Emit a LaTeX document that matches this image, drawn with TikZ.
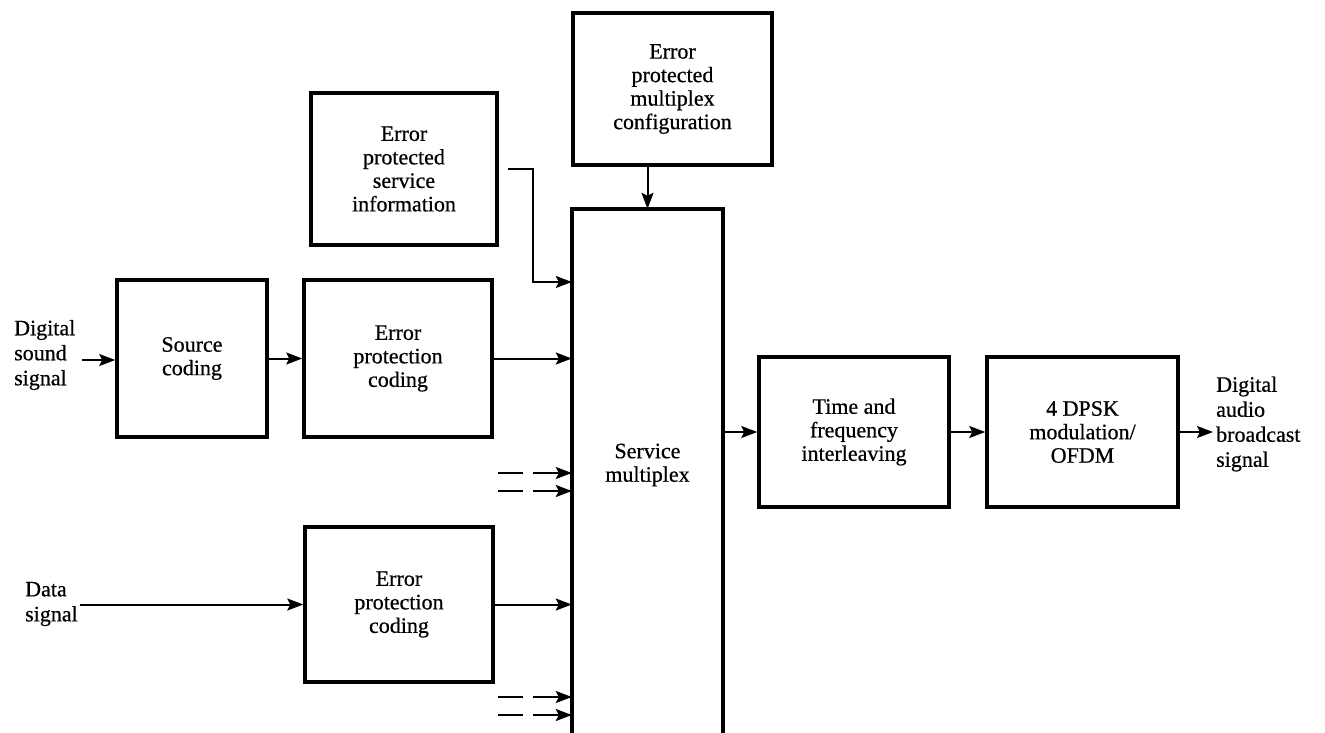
\documentclass[tikz,border=0pt]{standalone}
\usepackage{fontspec}
\setmainfont{Liberation Serif}[FakeBold=0.6]
\newfontfamily\txtfont{Liberation Serif}[FakeBold=0.6]
\usetikzlibrary{arrows.meta}
\begin{document}
\begin{tikzpicture}[x=1pt,y=-1pt,
  blk/.style={draw, line width=3.5pt, align=center, inner sep=0pt, font=\txtfont\fontsize{22}{23.5}\selectfont},
  lbl/.style={align=left, inner sep=0pt, anchor=west, font=\txtfont\fontsize{22}{25}\selectfont},
  conn/.style={line width=2pt, -{Stealth[length=16pt,width=12pt,inset=3pt]}},
  dconn/.style={conn, dash pattern=on 25pt off 10pt on 60pt off 0pt}
  ]
\useasboundingbox (0,0) rectangle (1325,732);
% blocks
\node[blk, minimum width=199pt, minimum height=152pt] (cfg) at (672.5,89) {Error\\protected\\multiplex\\configuration};
\node[blk, minimum width=186pt, minimum height=152pt] (svc) at (404,169) {Error\\protected\\service\\information};
\node[blk, minimum width=150pt, minimum height=157pt] (src) at (192,358.5) {Source\\coding};
\node[blk, minimum width=188pt, minimum height=157pt] (ep1) at (398,358.5) {Error\\protection\\coding};
\node[blk, minimum width=188pt, minimum height=155pt] (ep2) at (399,604.5) {Error\\protection\\coding};
\node[minimum width=151pt, minimum height=540pt, inner sep=0pt] (mux) at (647.5,479) {};
\draw[line width=3.5pt] (mux.south west) |- (mux.north east) -- (mux.south east);
\node[align=center, inner sep=0pt, font=\txtfont\fontsize{22}{23.5}\selectfont] (muxt) at (647.5,465) {Service\\multiplex};
\node[blk, minimum width=190pt, minimum height=150pt] (tfi) at (854,432) {Time and\\frequency\\interleaving};
\node[blk, minimum width=191pt, minimum height=150pt] (dpsk) at (1082.5,432) {4 DPSK\\modulation/\\OFDM};
% labels
\node[lbl] (lin) at (14,355) {Digital\\sound\\signal};
\node[lbl] (ldata) at (25,604) {Data\\signal};
\node[lbl] (lout) at (1216,424) {Digital\\audio\\broadcast\\signal};
% free ends
\coordinate (in1) at (82,360);
\coordinate (in2) at (80,604.5);
\coordinate (s1) at (508,169);
\coordinate (s2) at (533,282);
\coordinate (out) at (1213,432);
\coordinate (d1) at (498,473);
\coordinate (d2) at (498,491);
\coordinate (d3) at (498,697);
\coordinate (d4) at (498,715);
% connectors
\draw[conn] (in1) -- (in1 -| src.west);
\draw[conn] (src.east) -- (ep1.west);
\draw[conn] (ep1.east) -- (ep1.east -| mux.west);
\draw[conn] (s1) -| (s2) -- (s2 -| mux.west);
\draw[conn] (cfg.south -| mux.north) -- (mux.north);
\draw[conn] (in2) -- (ep2.west);
\draw[conn] (ep2.east) -- (ep2.east -| mux.west);
\draw[dconn] (d1) -- (d1 -| mux.west);
\draw[dconn] (d2) -- (d2 -| mux.west);
\draw[dconn] (d3) -- (d3 -| mux.west);
\draw[dconn] (d4) -- (d4 -| mux.west);
\draw[conn] (mux.east |- tfi.west) -- (tfi.west);
\draw[conn] (tfi.east) -- (dpsk.west);
\draw[conn] (dpsk.east) -- (out);
\end{tikzpicture}
\end{document}
